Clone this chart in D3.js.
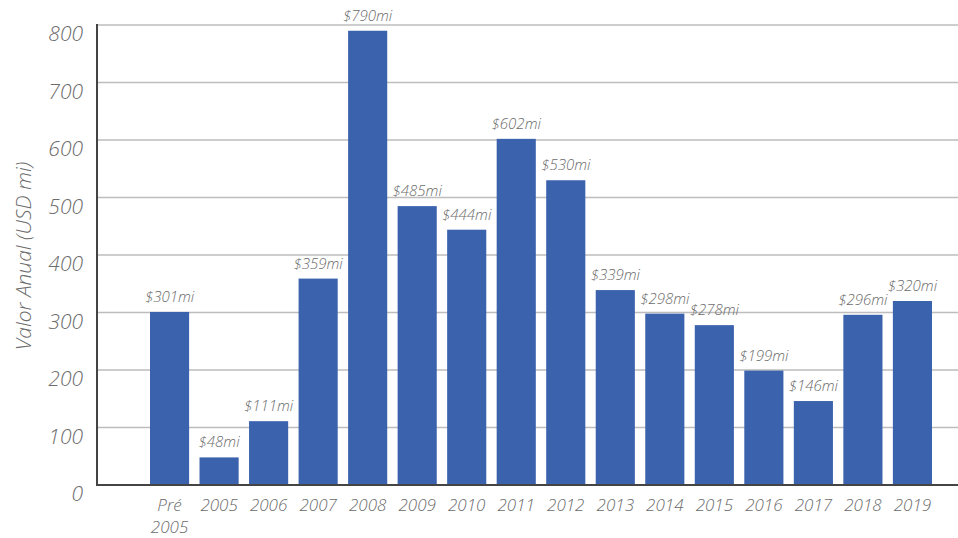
<!DOCTYPE html>
<html>
<head>
<meta charset="utf-8">
<script src="https://cdn.jsdelivr.net/npm/d3@7"></script>
<style>
  body { margin: 0; background: #fff; }
  svg { display: block; }
  text { font-family: "Open Sans", "Segoe UI", sans-serif; font-style: italic; font-weight: 300; fill: #6c6c6c; }
</style>
</head>
<body>
<svg width="958" height="538"></svg>
<script>
// chart data
const categories = ["Pré 2005", "2005", "2006", "2007", "2008", "2009", "2010", "2011",
                    "2012", "2013", "2014", "2015", "2016", "2017", "2018", "2019"];
const values = [301, 48, 111, 359, 790, 485, 444, 602, 530, 339, 298, 278, 199, 146, 296, 320];
const yTicks = [0, 100, 200, 300, 400, 500, 600, 700, 800];
const yTitle = "Valor Anual (USD mi)";

const svg = d3.select("svg");
// plot edges (window.top is taken, so no bare "top")
const plotLeft = 97, plotRight = 958, plotTop = 25, plotBottom = 485;

const x = d3.scaleBand()
    .domain(categories)
    .range([150, 932])
    .paddingInner(0.21)
    .paddingOuter(0);

const y = d3.scaleLinear()
    .domain([0, 800])
    .range([plotBottom, plotTop]);

// gridlines
svg.append("g")
    .selectAll("line")
    .data(yTicks.filter(t => t > 0))
    .join("line")
        .attr("x1", plotLeft)
        .attr("x2", plotRight)
        .attr("y1", d => y(d))
        .attr("y2", d => y(d))
        .attr("stroke", "#bdbdbd")
        .attr("stroke-width", 1.5);

// y tick labels
svg.append("g")
    .selectAll("text")
    .data(yTicks)
    .join("text")
        .attr("x", plotLeft - 14)
        .attr("y", d => y(d) + 16)
        .attr("text-anchor", "end")
        .style("font-size", "21px")
        .text(d => d);

// bars
svg.append("g")
    .selectAll("rect")
    .data(values)
    .join("rect")
        .attr("x", (d, i) => x(categories[i]))
        .attr("y", d => y(d))
        .attr("width", x.bandwidth())
        .attr("height", d => y(0) - y(d))
        .attr("fill", "#3b62ad");

// value labels
svg.append("g")
    .selectAll("text")
    .data(values)
    .join("text")
        .attr("x", (d, i) => x(categories[i]) + x.bandwidth() / 2)
        .attr("y", d => y(d) - 10)
        .attr("text-anchor", "middle")
        .style("font-size", "15px")
        .text(d => `$${d}mi`);

// axis lines
svg.append("line")
    .attr("x1", plotLeft).attr("x2", plotLeft)
    .attr("y1", plotTop - 1).attr("y2", plotBottom + 1)
    .attr("stroke", "#444").attr("stroke-width", 2);
svg.append("line")
    .attr("x1", plotLeft).attr("x2", plotRight)
    .attr("y1", plotBottom).attr("y2", plotBottom)
    .attr("stroke", "#444").attr("stroke-width", 2);

// x labels (split on space for "Pré 2005")
const xl = svg.append("g")
    .selectAll("text")
    .data(categories)
    .join("text")
        .attr("x", d => x(d) + x.bandwidth() / 2)
        .attr("y", 511)
        .attr("text-anchor", "middle")
        .style("font-size", "17px");
xl.each(function(d){
    const parts = d.split(" ");
    d3.select(this).selectAll("tspan")
        .data(parts)
        .join("tspan")
            .attr("x", x(d) + x.bandwidth() / 2)
            .attr("dy", (p, i) => i == 0 ? 0 : 22)
            .text(p => p);
});

// y axis title
svg.append("text")
    .attr("transform", "translate(31,256) rotate(-90)")
    .attr("text-anchor", "middle")
    .style("font-size", "21px")
    .text(yTitle);
</script>
</body>
</html>
